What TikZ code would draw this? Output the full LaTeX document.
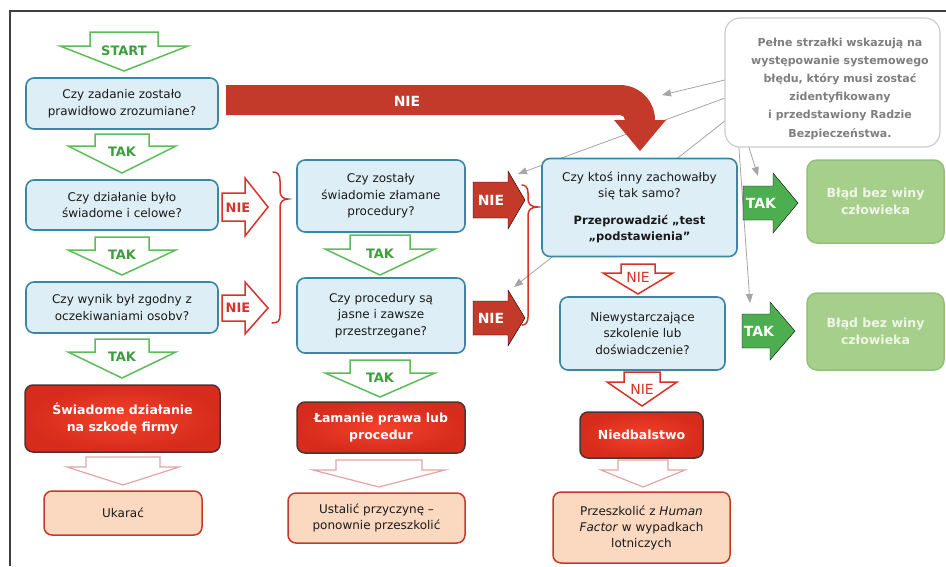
\documentclass[tikz,border=0pt]{standalone}
\usepackage{fontspec}
\setmainfont{DejaVu Sans}
\usetikzlibrary{arrows.meta}
\definecolor{qfill}{HTML}{DDEEF6}
\definecolor{qdraw}{HTML}{3A87A3}
\definecolor{rin}{HTML}{F4412A}
\definecolor{rout}{HTML}{D62C1C}
\definecolor{rdraw}{HTML}{4A3530}
\definecolor{pfill}{HTML}{FBD8C0}
\definecolor{pdraw}{HTML}{C63A2B}
\definecolor{gfill}{HTML}{A7CF8C}
\definecolor{gdraw}{HTML}{90C178}
\definecolor{gtext}{HTML}{EEF6E6}
\definecolor{hgreen}{HTML}{5DBB5A}
\definecolor{tgreen}{HTML}{3C9E3C}
\definecolor{fgreen}{HTML}{4DAE4F}
\definecolor{hred}{HTML}{D8322B}
\definecolor{fred}{HTML}{C3392A}
\definecolor{pinkl}{HTML}{E2A5A5}
\definecolor{greyl}{HTML}{A5A5A5}
\definecolor{calltext}{HTML}{7F7F7F}
\definecolor{framec}{HTML}{3F3F3F}
\definecolor{txt}{HTML}{1A1A1A}
\newcommand\myfs[2]{\fontsize{#1}{#2}\selectfont}
% down block arrow: style, cx, top, stem half width, wing y, wing half width, tip y
\newcommand\DArr[7]{\draw[#1] ({#2-#4},#3) -- ({#2+#4},#3) -- ({#2+#4},#5) -- ({#2+#6},#5) -- (#2,#7) -- ({#2-#6},#5) -- ({#2-#4},#5) -- cycle;}
% right block arrow: style, left x, cy, stem half height, head x, head half height, tip x
\newcommand\RArr[7]{\draw[#1] (#2,{#3-#4}) -- (#5,{#3-#4}) -- (#5,{#3-#6}) -- (#7,#3) -- (#5,{#3+#6}) -- (#5,{#3+#4}) -- (#2,{#3+#4}) -- cycle;}
\begin{document}
\begin{tikzpicture}[x=1pt,y=-1pt,
  qbox/.style={rounded corners=8pt, draw=qdraw, fill=qfill, line width=1.6pt, align=center, inner sep=0pt, text=txt, font=\myfs{12}{16.5}},
  rbox/.style={rounded corners=8pt, draw=rdraw, shade, shading=radial, inner color=rin, outer color=rout, line width=1.5pt, align=center, inner sep=0pt, text=white, font=\bfseries\myfs{12.5}{17}},
  pbox/.style={rounded corners=8pt, draw=pdraw, fill=pfill, line width=1.5pt, align=center, inner sep=0pt, text=txt, font=\myfs{12}{16}},
  gbox/.style={rounded corners=10pt, draw=gdraw, fill=gfill, line width=1.5pt, align=center, inner sep=0pt, text=gtext, font=\bfseries\myfs{12.5}{17}},
  cbox/.style={rounded corners=15pt, draw=black!20, fill=white, line width=1.2pt, inner sep=0pt},
  ctext/.style={align=center, text=calltext, font=\bfseries\myfs{11}{18.2}, inner sep=0pt},
  harG/.style={draw=hgreen, fill=white, line width=1.5pt, line join=miter},
  harR/.style={draw=hred, fill=white, line width=1.5pt},
  harP/.style={draw=pinkl, fill=white, line width=1.2pt},
  farR/.style={fill=fred},
  farG/.style={fill=fgreen},
  lblG/.style={text=tgreen, font=\bfseries\myfs{13}{13}, inner sep=0pt},
  lblRb/.style={text=hred, font=\bfseries\myfs{13}{13}, inner sep=0pt},
  lblRn/.style={text=hred, font=\myfs{14}{14}, inner sep=0pt},
  lblW/.style={text=white, font=\bfseries\myfs{14}{14}, inner sep=0pt},
  gline/.style={draw=greyl, line width=0.8pt, -{Triangle[length=9pt,width=7pt]}},
  bracestyle/.style={draw=hred, line width=1.5pt, line cap=round},
  framestyle/.style={draw=framec, line width=2pt}]
\useasboundingbox (0,0) rectangle (946,566);
\fill[white] (0,0) rectangle (946,566);
\draw[framestyle] (10,566) -- (10,11) -- (946,11);

% grey pointer lines (behind everything)
\coordinate (s1) at (740,76.4);  \coordinate (e1) at (662,95);
\coordinate (s2) at (740,92.5);  \coordinate (e2) at (518,174);
\coordinate (s3) at (740,109);   \coordinate (e3) at (514,287);
\coordinate (s4) at (745,135);   \coordinate (e4) at (758,176);
\coordinate (s5) at (738,135);   \coordinate (e5) at (750,303);
\draw[gline] (s1) -- (e1);
\draw[gline] (s2) -- (e2);
\draw[gline] (s3) -- (e3);
\draw[gline] (s4) -- (e4);
\draw[gline] (s5) -- (e5);

% big curved NIE arrow
\fill[fred] (226,85) -- (620,85) arc (-90:0:35) -- (666,120) -- (640,151) -- (614,120) -- (625,120) arc (0:-90:5) -- (226,115) -- cycle;
\node[lblW] (nbig) at (407,101) {NIE};

% callout
\node[cbox, minimum width=215pt, minimum height=129pt] (call) at (832.5,82.5) {};
\node[ctext] (calltxt) at (840,88.5) {Pełne strzałki wskazują na\\występowanie systemowego\\błędu, który musi zostać\\zidentyfikowany\\i przedstawiony Radzie\\Bezpieczeństwa.};

% column 1
\DArr{harG}{124}{32}{34}{46}{64}{71}
\node[lblG] (tS) at (124,51) {START};
\node[qbox, minimum width=192pt, minimum height=51pt] (q1) at (122,103.5) {Czy zadanie zostało\\prawidłowo zrozumiane?};
\DArr{harG}{122}{134}{27}{146}{54}{173}
\node[lblG] (t1) at (122,152) {TAK};
\node[qbox, minimum width=192pt, minimum height=50pt] (q2) at (122,205) {Czy działanie było\\świadome i celowe?};
\DArr{harG}{122}{237}{27}{250}{54}{275}
\node[lblG] (t2) at (122,255) {TAK};
\node[qbox, minimum width=192pt, minimum height=51pt] (q3) at (122,307.5) {Czy wynik był zgodny z\\oczekiwaniami osobv?};
\DArr{harG}{122}{339}{27}{352}{54}{378}
\node[lblG] (t3) at (122,357) {TAK};
\node[rbox, minimum width=195pt, minimum height=67pt] (r1) at (122.5,418.5) {Świadome działanie\\na szkodę firmy};
\DArr{harP}{123}{457}{37}{467}{56}{485}
\node[pbox, minimum width=158pt, minimum height=44pt] (p1) at (123,513) {Ukarać};

\RArr{harR}{222}{207}{14}{245}{29}{268}
\node[lblRb] (n1) at (238,208) {NIE};
\RArr{harR}{222}{308}{13}{245}{26}{268}
\node[lblRb] (n2) at (238,308) {NIE};
\draw[bracestyle] (273,172) .. controls (278,172) and (280,175) .. (280,181) -- (280,191) .. controls (280,196) and (283,199) .. (288,199) .. controls (283,199) and (280,202) .. (280,207) -- (280,315) .. controls (280,321) and (278,323) .. (272,323);

% column 2
\node[qbox, minimum width=168pt, minimum height=72pt] (q4) at (381,196) {Czy zostały\\świadomie złamane\\procedury?};
\DArr{harG}{380}{235}{30}{249}{55}{275}
\node[lblG] (t4) at (380,254) {TAK};
\node[qbox, minimum width=168pt, minimum height=75pt] (q5) at (381,315.5) {Czy procedury są\\jasne i zawsze\\przestrzegane?};
\DArr{harG}{380}{360}{30}{373}{55}{397}
\node[lblG] (t5) at (380,378) {TAK};
\node[rbox, minimum width=168pt, minimum height=51pt] (r2) at (381,427.5) {Łamanie prawa lub\\procedur};
\DArr{harP}{379}{460}{43}{470}{66}{487}
\node[pbox, minimum width=177pt, minimum height=50pt] (p2) at (376.5,518) {Ustalić przyczynę –\\ponownie przeszkolić};

\RArr{farR}{473}{200}{18}{508}{29}{525}
\node[lblW] (n3) at (491,200) {NIE};
\RArr{farR}{473}{318}{17}{508}{28}{525}
\node[lblW] (n4) at (491,318) {NIE};
\draw[bracestyle] (522,185) .. controls (526,185) and (528,188) .. (528,193) -- (528,199) .. controls (528,204) and (531,207) .. (538,207) .. controls (531,207) and (528,210) .. (528,215) -- (528,317) .. controls (528,322) and (526,325) .. (522,325);

% column 3
\node[qbox, minimum width=195pt, minimum height=98pt] (q6) at (639.5,207.5) {Czy ktoś inny zachowałby\\się tak samo?\\[10pt]{\bfseries\myfs{11.5}{16.5}Przeprowadzić „test}\\{\bfseries\myfs{11.5}{16.5}„podstawienia”}};
\DArr{harR}{638}{264}{17}{273}{35}{294}
\node[lblRn] (n5) at (638,277) {NIE};
\node[qbox, minimum width=165pt, minimum height=73pt] (q7) at (642.5,333.5) {Niewystarczające\\szkolenie lub\\doświadczenie?};
\DArr{harR}{642}{372}{18}{382}{35}{406}
\node[lblRn] (n6) at (642,389) {NIE};
\node[rbox, minimum width=123pt, minimum height=46pt] (r3) at (641.5,435) {Niedbalstwo};
\DArr{harP}{643}{460}{25}{470}{42}{487}
\node[pbox, minimum width=177pt, minimum height=71pt] (p3) at (641.5,527.5) {Przeszkolić z \textit{Human}\\\textit{Factor} w wypadkach\\lotniczych};

\RArr{farG}{743}{203}{17}{773}{30}{798}
\node[lblW] (k1) at (761,203) {TAK};
\RArr{farG}{742}{331}{17}{770}{29}{795}
\node[lblW] (k2) at (759,331) {TAK};
\node[gbox, minimum width=137pt, minimum height=83pt] (g1) at (875.5,201.5) {Błąd bez winy\\człowieka};
\node[gbox, minimum width=137pt, minimum height=77pt] (g2) at (875.5,331.5) {Błąd bez winy\\człowieka};
\end{tikzpicture}
\end{document}
